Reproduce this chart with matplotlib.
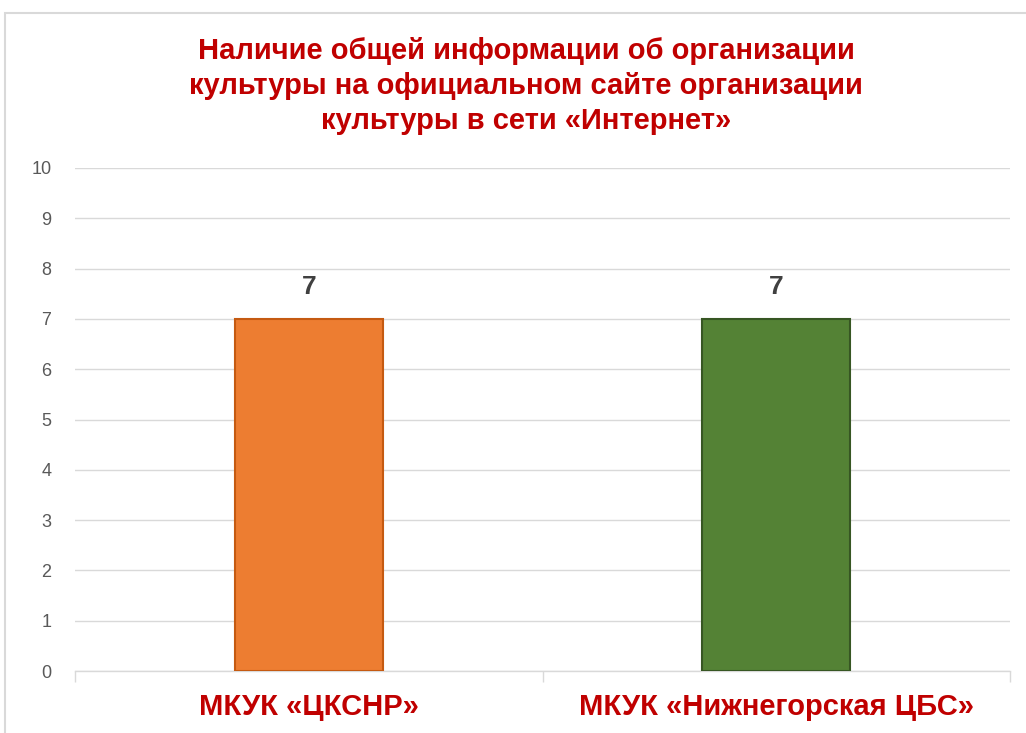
import matplotlib
matplotlib.use("Agg")
import matplotlib.pyplot as plt
from matplotlib.patches import Rectangle

categories = ["МКУК «ЦКСНР»", "МКУК «Нижнегорская ЦБС»"]
values = [7, 7]
yticks = list(range(0, 11))
title = "Наличие общей информации об организации\nкультуры на официальном сайте организации\nкультуры в сети «Интернет»"

fill_colors = ["#ED7D31", "#548235"]
edge_colors = ["#C55A11", "#375623"]

plt.rcParams['font.family'] = ['Liberation Sans', 'DejaVu Sans']

W, H = 1026, 733
fig = plt.figure(figsize=(W / 100, H / 100), dpi=100)

# chart border
fig.patches.append(Rectangle((5 / W, -0.05), 1.1, (H - 13) / H + 0.05,
                             transform=fig.transFigure, fill=False,
                             edgecolor="#D9D9D9", linewidth=1.5))

ax = fig.add_axes([75 / W, (H - 671) / H, (1010 - 75) / W, (671 - 168) / H])
x = list(range(len(categories)))
bars = ax.bar(x, values, width=0.317, color=fill_colors, edgecolor=edge_colors,
              linewidth=1.5, zorder=3)
ax.set_xlim(-0.5, len(categories) - 0.5)
ax.set_ylim(0, 10)
ax.set_yticks(yticks)
ax.set_yticklabels([str(t) for t in yticks], color="#595959", fontsize=13)
ax.tick_params(axis='y', length=0, pad=17)
ax.grid(axis='y', color="#D9D9D9", linewidth=1, zorder=0)
for s in ["top", "right", "left"]:
    ax.spines[s].set_visible(False)
ax.spines["bottom"].set_color("#D9D9D9")
ax.spines["bottom"].set_linewidth(1)

ax.set_xticks([-0.5, 0.5, 1.5], minor=True)
ax.tick_params(axis='x', which='minor', length=8, color="#D9D9D9", width=1)
ax.set_xticks(x)
ax.set_xticklabels(categories, color="#C00000", fontsize=21, fontweight="bold")
ax.tick_params(axis='x', which='major', length=0, pad=16)

for xi, v in zip(x, values):
    ax.annotate(str(v), (xi, v), xytext=(0, 14), textcoords="offset points",
                ha="center", va="bottom", fontsize=19, fontweight="bold",
                color="#404040")

fig.text(526 / W, 1 - 86 / H, title, ha="center", va="center", fontsize=21,
         fontweight="bold", color="#C00000", linespacing=1.31)

fig.savefig("out.png", dpi=100)
